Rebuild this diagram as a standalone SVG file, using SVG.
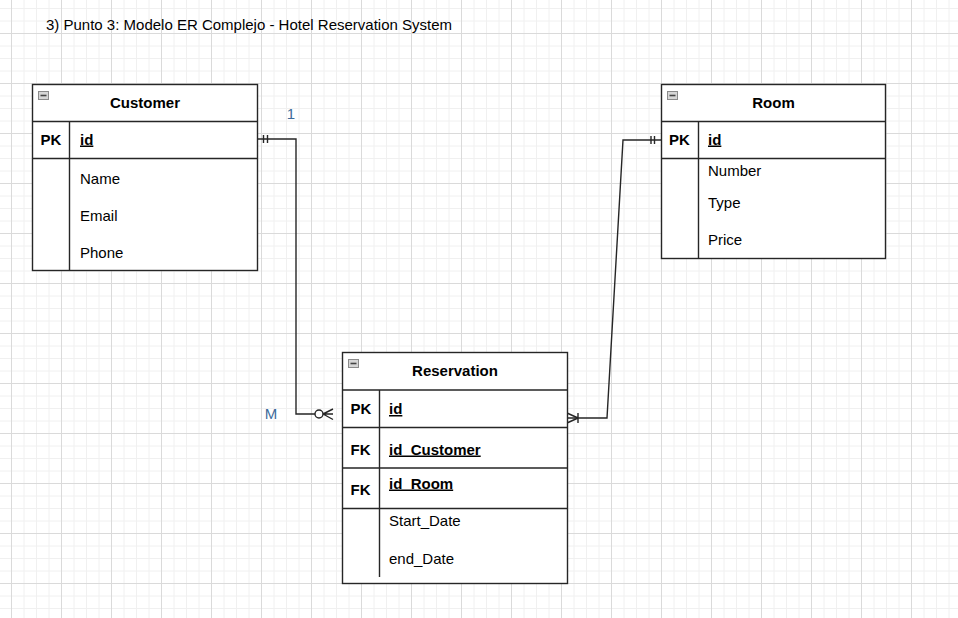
<svg xmlns="http://www.w3.org/2000/svg" width="958" height="618" viewBox="0 0 958 618">
<defs>
<pattern id="grid" patternUnits="userSpaceOnUse" x="11" y="33" width="50" height="50">
<path d="M13 0V50M25.5 0V50M38 0V50M0 13H50M0 25.5H50M0 38H50" stroke="#f0f0f0" stroke-width="1" fill="none"/>
<path d="M0.5 0V50M0 0.5H50" stroke="#dadada" stroke-width="1" fill="none"/>
</pattern>
<g id="icon">
<rect x="0.5" y="0.5" width="10" height="8" fill="#d6d6d6" stroke="#8a8a8a" stroke-width="1"/>
<path d="M2.5 4.5H8.5" stroke="#444" stroke-width="1.6"/>
</g>
</defs>
<style>
text{font-family:"Liberation Sans",Arial,sans-serif;font-size:15px;fill:#000}
.b{font-weight:bold}
.c{text-anchor:middle}
.u{text-decoration:underline}
.box{fill:#fff;stroke:#262626;stroke-width:1.4}
.ln{fill:none;stroke:#262626;stroke-width:1.4}
.lab{fill:#3d6b9b}
</style>
<rect width="958" height="618" fill="#fff"/>
<rect width="958" height="618" fill="url(#grid)"/>
<text x="46" y="30">3) Punto 3: Modelo ER Complejo - Hotel Reservation System</text>

<g id="connectors">
<path class="ln" d="M257.5 139H296V414H315"/>
<path class="ln" d="M263.5 135V143M267.5 135V143"/>
<circle cx="319" cy="414" r="4" fill="#fff" stroke="#262626" stroke-width="1.4"/>
<path class="ln" d="M323 414H333M323 414L333 409M323 414L333 419.5"/>
<path class="ln" d="M567 418H607L623 140H661"/>
<path class="ln" d="M651 136V144M654.5 136V144"/>
<path class="ln" d="M578 413V423M578 418L567 413M578 418L567 423"/>
<text class="lab c" x="291" y="119">1</text>
<text class="lab c" x="271" y="419">M</text>
</g>

<g id="customer">
<rect class="box" x="32.5" y="84.5" width="225" height="186"/>
<path class="ln" d="M32.5 121.5H257.5M32.5 158.5H257.5M69.5 121.5V270.5"/>
<use href="#icon" x="38" y="91"/>
<text class="b c" x="145" y="107.5">Customer</text>
<text class="b" x="40.5" y="144.5">PK</text>
<text class="b u" x="80" y="144.5">id</text>
<text x="80" y="183.5">Name</text>
<text x="80" y="220.5">Email</text>
<text x="80" y="257.5">Phone</text>
</g>

<g id="room">
<rect class="box" x="661.5" y="84.5" width="224" height="174"/>
<path class="ln" d="M661.5 121.5H885.5M661.5 158.5H885.5M698.5 121.5V258.5"/>
<use href="#icon" x="667" y="91"/>
<text class="b c" x="773.5" y="107.5">Room</text>
<text class="b" x="669" y="144.5">PK</text>
<text class="b u" x="708" y="144.5">id</text>
<text x="708" y="176">Number</text>
<text x="708" y="208">Type</text>
<text x="708" y="245">Price</text>
</g>

<g id="reservation">
<rect class="box" x="342.5" y="352.5" width="225" height="231"/>
<path class="ln" d="M342.5 390H567.5M342.5 427.5H567.5M342.5 468H567.5M342.5 508.5H567.5M379.5 390V577"/>
<use href="#icon" x="348" y="359"/>
<text class="b c" x="455" y="376">Reservation</text>
<text class="b" x="350.5" y="414">PK</text>
<text class="b u" x="389" y="414">id</text>
<text class="b" x="350.5" y="454.5">FK</text>
<text class="b u" x="389" y="454.5">id_Customer</text>
<text class="b" x="350.5" y="495">FK</text>
<text class="b u" x="389" y="488.5">id_Room</text>
<text x="389" y="526">Start_Date</text>
<text x="389" y="563.5">end_Date</text>
</g>
</svg>
